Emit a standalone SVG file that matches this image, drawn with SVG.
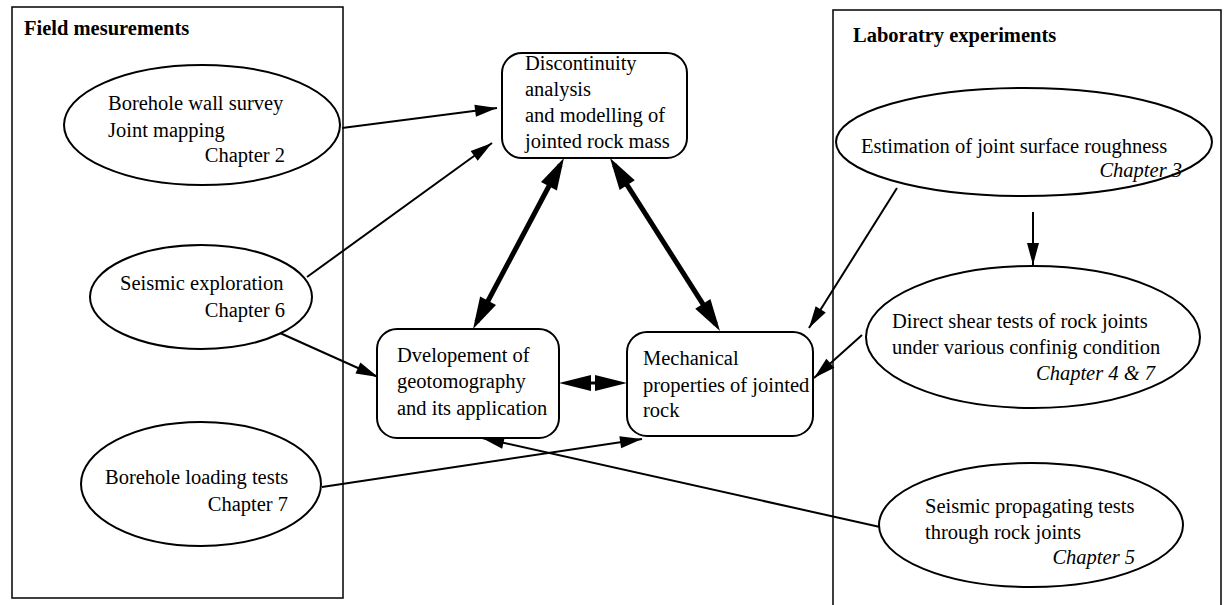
<svg xmlns="http://www.w3.org/2000/svg" width="1226" height="605" viewBox="0 0 1226 605">
<style>
  text { font-family: "Liberation Serif", "Times New Roman", serif; font-size: 20.5px; fill: #000; }
  .head { font-weight: bold; }
  .ch { font-style: italic; }
  .end { text-anchor: end; }
  .frame { fill: none; stroke: #000; stroke-width: 1.5; }
  .node { fill: #fff; stroke: #000; stroke-width: 2; }
  .thin { fill: none; stroke: #000; stroke-width: 2; marker-end: url(#ah); }
  .bold { fill: none; stroke: #000; stroke-width: 5; marker-start: url(#bh); marker-end: url(#bh); }
  .mid { fill: none; stroke: #000; stroke-width: 3; marker-start: url(#hh); marker-end: url(#hh); }
</style>
<defs>
  <marker id="ah" markerUnits="userSpaceOnUse" markerWidth="22" markerHeight="12" refX="22" refY="6" orient="auto" overflow="visible">
    <path d="M0,0 L22,6 L0,12 z" fill="#000"/>
  </marker>
  <marker id="bh" markerUnits="userSpaceOnUse" markerWidth="32" markerHeight="18" refX="24" refY="9" orient="auto-start-reverse" overflow="visible">
    <path d="M0,0 L32,9 L0,18 z" fill="#000"/>
  </marker>
  <marker id="hh" markerUnits="userSpaceOnUse" markerWidth="32" markerHeight="16" refX="24" refY="8" orient="auto-start-reverse" overflow="visible">
    <path d="M0,0 L32,8 L0,16 z" fill="#000"/>
  </marker>
</defs>
<rect width="1226" height="605" fill="#fff"/>

<g id="field-frame">
  <rect class="frame" x="12" y="7" width="331" height="591"/>
  <text class="head" x="24" y="35">Field mesurements</text>
</g>
<g id="lab-frame">
  <rect class="frame" x="833" y="10" width="388" height="605"/>
  <text class="head" x="853" y="42">Laboratry experiments</text>
</g>

<g id="connectors">
  <line class="thin" x1="342" y1="128" x2="497" y2="108"/>
  <line class="thin" x1="307" y1="277" x2="492" y2="143"/>
  <line class="thin" x1="280" y1="333" x2="378" y2="377"/>
  <line class="thin" x1="322" y1="487" x2="642" y2="439"/>
  <line class="thin" x1="880" y1="527" x2="482" y2="438"/>
  <line class="thin" x1="1033" y1="212" x2="1033" y2="265"/>
  <line class="thin" x1="897" y1="188" x2="809" y2="328"/>
  <line class="thin" x1="862" y1="335" x2="814" y2="378"/>
  <line class="bold" x1="560.2" y1="165" x2="476.8" y2="322"/>
  <line class="bold" x1="614.3" y1="164.8" x2="715.7" y2="324.2"/>
  <line class="mid" x1="567" y1="383" x2="619" y2="383"/>
</g>

<g id="n-borehole-wall">
  <ellipse class="node" cx="202" cy="125" rx="138" ry="60"/>
  <text x="108" y="110">Borehole wall survey</text>
  <text x="108" y="137">Joint mapping</text>
  <text class="end" x="285" y="162">Chapter 2</text>
</g>
<g id="n-seismic-exploration">
  <ellipse class="node" cx="201" cy="297" rx="111" ry="52"/>
  <text x="120" y="290">Seismic exploration</text>
  <text class="end" x="285" y="317">Chapter 6</text>
</g>
<g id="n-borehole-loading">
  <ellipse class="node" cx="201" cy="484" rx="120" ry="62"/>
  <text x="105" y="484">Borehole loading tests</text>
  <text class="end" x="288" y="511">Chapter 7</text>
</g>

<g id="n-discontinuity">
  <rect class="node" x="502" y="53" width="185" height="105" rx="20" ry="20"/>
  <text x="525" y="70">Discontinuity</text>
  <text x="525" y="96">analysis</text>
  <text x="525" y="122">and modelling of</text>
  <text x="525" y="148">jointed rock mass</text>
</g>
<g id="n-geotomography">
  <rect class="node" x="377" y="329" width="182" height="109" rx="20" ry="20"/>
  <text x="397" y="362">Dvelopement of</text>
  <text x="397" y="388">geotomography</text>
  <text x="397" y="415">and its application</text>
</g>
<g id="n-mechanical">
  <rect class="node" x="627" y="332" width="186" height="104" rx="20" ry="20"/>
  <text x="643" y="365">Mechanical</text>
  <text x="643" y="392">properties of jointed</text>
  <text x="643" y="417">rock</text>
</g>

<g id="n-roughness">
  <ellipse class="node" cx="1024" cy="142" rx="188" ry="54"/>
  <text x="861" y="153">Estimation of joint surface roughness</text>
  <text class="end ch" x="1182" y="177">Chapter 3</text>
</g>
<g id="n-direct-shear">
  <ellipse class="node" cx="1033" cy="337" rx="167" ry="71"/>
  <text x="892" y="328">Direct shear tests of rock joints</text>
  <text x="892" y="354">under various confinig condition</text>
  <text class="end ch" x="1155" y="380">Chapter 4 &amp; 7</text>
</g>
<g id="n-seismic-propagating">
  <ellipse class="node" cx="1031" cy="525" rx="152" ry="62"/>
  <text x="925" y="513">Seismic propagating tests</text>
  <text x="925" y="539">through rock joints</text>
  <text class="end ch" x="1135" y="564">Chapter 5</text>
</g>
</svg>
